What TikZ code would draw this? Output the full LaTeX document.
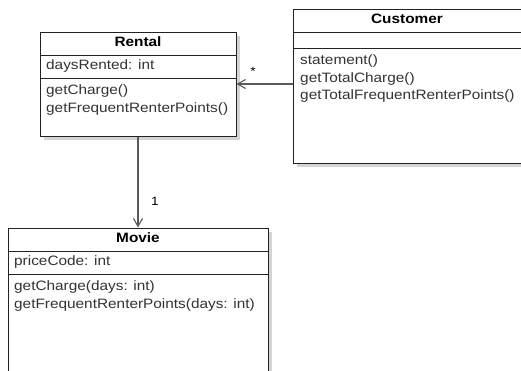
\documentclass[tikz,border=0pt]{standalone}
\usepackage{fontspec}
\setmainfont{Liberation Sans}[FakeStretch=1.13]
\usetikzlibrary{arrows.meta}
\definecolor{txt}{HTML}{333333}
\definecolor{edge}{HTML}{222222}
\definecolor{conn}{HTML}{5A5A5A}
\definecolor{shade}{HTML}{D4D4D4}
\begin{document}
\begin{tikzpicture}[x=1pt,y=-1pt,
  classbox/.style={draw=edge,line width=1pt,fill=white,inner sep=0pt},
  shadowbox/.style={fill=shade,draw=none},
  title/.style={anchor=base,inner sep=0pt,text=black,font=\fontsize{13.6}{16}\selectfont\bfseries},
  member/.style={anchor=base west,inner sep=0pt,text=txt,font=\fontsize{13.6}{16}\selectfont},
  mult/.style={inner sep=0pt,text=black,font=\fontsize{12}{14}\selectfont},
  sep/.style={draw=edge,line width=1pt},
  assoc/.style={draw=conn,line width=1.1pt,-{Straight Barb[length=8pt,width=9pt,line width=1.1pt]}}]
\useasboundingbox (0,0) rectangle (521,370);
% shadows
\fill[shadowbox] (44,36) rectangle (240,140);
\fill[shadowbox] (297,13) rectangle (530,167);
\fill[shadowbox] (12,232) rectangle (272,384);
% boxes
\node[classbox,minimum width=196pt,minimum height=104pt] (rental) at (138,84) {};
\node[classbox,minimum width=236pt,minimum height=154pt] (customer) at (411,86) {};
\node[classbox,minimum width=260pt,minimum height=152pt] (movie) at (138,304) {};
% compartments
\draw[sep] (40,55) -- (236,55) (40,78) -- (236,78);
\draw[sep] (293,32) -- (529,32) (293,48) -- (529,48);
\draw[sep] (8,251) -- (268,251) (8,274) -- (268,274);
% Rental
\node[title] (rt) at (138,46.7) {Rental};
\node[member] (r1) at (46,69.3) {daysRented: int};
\node[member] (r2) at (46,94.3) {getCharge()};
\node[member] (r3) at (46,112) {getFrequentRenterPoints()};
% Customer
\node[title] (ct) at (407,23.7) {Customer};
\node[member] (c1) at (300,64.3) {statement()};
\node[member] (c2) at (300,82) {getTotalCharge()};
\node[member] (c3) at (300,99.7) {getTotalFrequentRenterPoints()};
% Movie
\node[title] (mt) at (138,242.7) {Movie};
\node[member] (m1) at (14,265.3) {priceCode: int};
\node[member] (m2) at (14,290.3) {getCharge(days: int)};
\node[member] (m3) at (14,308) {getFrequentRenterPoints(days: int)};
% associations
\draw[assoc] (customer.west |- rental.east) -- (rental.east);
\draw[assoc] (rental.south) -- (movie.north);
\node[mult] (star) at (253,71) {*};
\node[mult] (one) at (155,201) {1};
\end{tikzpicture}
\end{document}
